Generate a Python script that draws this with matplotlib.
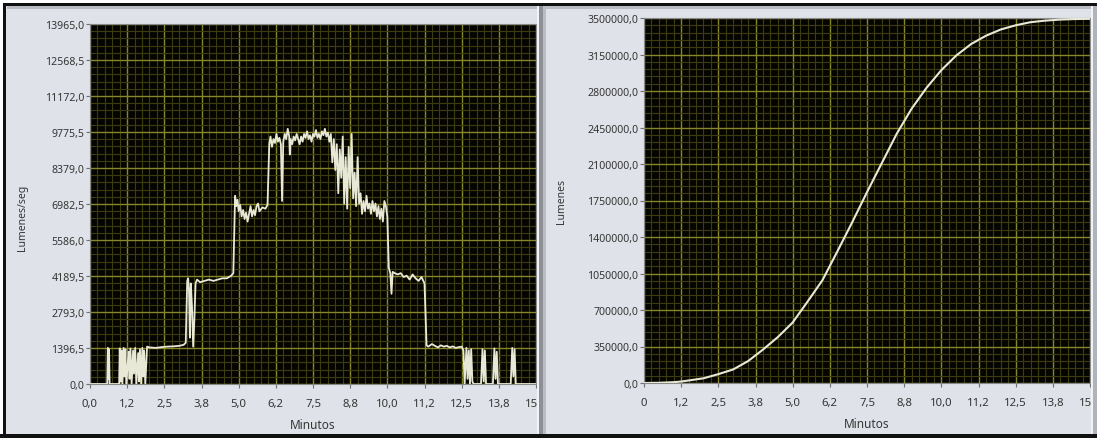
import matplotlib
matplotlib.use('Agg')
import matplotlib.pyplot as plt
from matplotlib.ticker import FixedLocator, MultipleLocator
from matplotlib.patches import Rectangle

plt.rcParams['font.family'] = ['Noto Sans', 'DejaVu Sans']

# ---------------- data ----------------
x_tick_labels_left = ['0,0', '1,2', '2,5', '3,8', '5,0', '6,2', '7,5', '8,8', '10,0', '11,2', '12,5', '13,8', '15,0']
x_tick_labels_right = ['0', '1,2', '2,5', '3,8', '5,0', '6,2', '7,5', '8,8', '10,0', '11,2', '12,5', '13,8', '15,0']
y_tick_labels_left = ['0,0', '1396,5', '2793,0', '4189,5', '5586,0', '6982,5', '8379,0',
                      '9775,5', '11172,0', '12568,5', '13965,0']
y_tick_labels_right = ['0,0', '350000,0', '700000,0', '1050000,0', '1400000,0', '1750000,0',
                       '2100000,0', '2450000,0', '2800000,0', '3150000,0', '3500000,0']

# Lumenes/seg vs minutes (left chart)
t_flux = [0.00, 0.58, 0.60, 0.62, 0.64, 0.66, 0.98, 1.00, 1.03, 1.06, 1.09, 1.13, 1.16, 1.19, 1.22,
          1.30, 1.33, 1.36, 1.40, 1.45, 1.48, 1.52, 1.56, 1.62, 1.65, 1.68, 1.72, 1.76, 1.79, 1.82,
          1.86, 1.92,
          2.00, 2.20, 2.40, 2.60, 2.80, 3.00, 3.15, 3.22,
          3.27, 3.30, 3.33, 3.36, 3.39, 3.43, 3.47, 3.51, 3.55, 3.60, 3.70, 3.85, 4.00, 4.15, 4.30,
          4.45, 4.60, 4.75, 4.82,
          4.88, 4.92, 4.96, 5.00, 5.05, 5.10, 5.15, 5.20, 5.25, 5.30, 5.35, 5.40, 5.45, 5.50, 5.55,
          5.60, 5.65, 5.70, 5.80, 5.90, 5.97,
          6.03, 6.07, 6.12, 6.17, 6.22, 6.27, 6.32, 6.37, 6.42, 6.46, 6.50, 6.55, 6.60, 6.65, 6.70,
          6.72, 6.75, 6.80, 6.85, 6.90, 6.95, 7.00, 7.05, 7.10, 7.15, 7.20, 7.25, 7.30, 7.35, 7.40,
          7.45, 7.50, 7.55, 7.60, 7.65, 7.70, 7.75, 7.80, 7.85, 7.90, 7.95, 8.00, 8.05, 8.10, 8.15,
          8.20, 8.25, 8.30, 8.35, 8.40, 8.45, 8.50, 8.55, 8.60, 8.65, 8.70, 8.75, 8.80, 8.85, 8.90,
          8.95, 9.00, 9.05, 9.10, 9.15, 9.20, 9.25, 9.30, 9.35, 9.40, 9.45, 9.50, 9.55, 9.60, 9.65,
          9.70, 9.75, 9.80, 9.85, 9.90, 9.95, 10.00,
          10.05, 10.10, 10.14, 10.18, 10.25, 10.35, 10.45, 10.55, 10.65, 10.75, 10.85, 10.95, 11.05,
          11.15, 11.25,
          11.32, 11.38, 11.50, 11.60, 11.70, 11.80, 11.90, 12.00, 12.10, 12.20, 12.30, 12.40, 12.50,
          12.56,
          12.60, 12.66, 12.70, 12.74, 12.78, 12.82, 12.86, 12.90, 13.15, 13.20, 13.24, 13.28, 13.32,
          13.55, 13.60, 13.64, 13.68, 13.72, 14.15, 14.20, 14.24, 14.28, 14.32, 15.00]
v_flux = [0, 0, 1400, 200, 1350, 0, 0, 1380, 100, 1300, 0, 1400, 300, 1350, 0,
          1250, 200, 1380, 0, 1300, 400, 1400, 0, 1200, 100, 1350, 0, 1400, 300, 1300,
          0, 1450,
          1420, 1400, 1430, 1450, 1460, 1480, 1520, 1600,
          4000, 4100, 3600, 1800, 3900, 3000, 1450, 2500, 3900, 4050, 3950, 4000, 4050, 4000, 4050,
          4100, 4100, 4200, 4300,
          7300, 6900, 7150, 6700, 6950, 6500, 6750, 6400, 6650, 6300, 6600, 6900, 6500, 6750, 6550,
          6900, 7000, 6700, 6850, 6800, 6950,
          9300, 9600, 9200, 9500, 9350, 9700, 9400, 9550, 9300, 7100, 9400, 9700, 9500, 9900, 9600,
          8900, 9500, 9300, 9600, 9450, 9700, 9500, 9300, 9600, 9400, 9700, 9550, 9800, 9500, 9650,
          9400, 9700, 9600, 9850, 9550, 9700, 9500, 9800, 9650, 9900, 9600, 9750, 9400, 9700, 8600,
          9500, 8300, 9300, 7400, 9100, 8000, 9600, 7000, 8800, 6800, 9200, 7600, 9700, 7200, 8200,
          6900, 8800, 7000, 7400, 6600, 7100, 6700, 7300, 6800, 7000, 6600, 7100, 6700, 7000, 6500,
          6900, 6400, 6800, 6300, 7100, 6900, 6500,
          4500, 4300, 3500, 4350, 4300, 4250, 4300, 4150, 4200, 4050, 4250, 4100, 4000,
          4150, 3900,
          1500, 1450, 1550, 1480, 1420, 1500, 1450, 1480, 1420, 1460, 1400, 1430, 1450,
          1300,
          0, 1400, 200, 1300, 0, 1350, 100, 0, 0, 1350, 100, 1300, 0,
          0, 1380, 200, 1250, 0, 0, 1400, 300, 1350, 0, 0]

# Cumulative Lumenes vs minutes (right chart)
t_total = [0.0, 0.5, 1.0, 1.25, 1.5, 2.0, 2.5, 3.0, 3.5, 4.0, 4.5, 5.0, 5.5, 6.0, 6.5, 7.0, 7.5,
           8.0, 8.5, 9.0, 9.5, 10.0, 10.5, 11.0, 11.5, 12.0, 12.5, 13.0, 13.5, 14.0, 14.5, 15.0]
v_total = [0, 2000, 8000, 14000, 24000, 45000, 85000, 130000, 210000, 320000, 440000, 580000,
           780000, 985000, 1260000, 1540000, 1830000, 2110000, 2390000, 2630000, 2830000, 3000000,
           3140000, 3250000, 3330000, 3390000, 3430000, 3460000, 3475000, 3485000, 3490000, 3492000]

# ---------------- figure ----------------
W, H = 1097, 439
PANEL = '#dfe2e8'
TXT = '#353535'
fig = plt.figure(figsize=(W / 100, H / 100), dpi=100, facecolor=PANEL)


def px_axes(x0, y0, x1, y1):
    return fig.add_axes([x0 / W, 1 - y1 / H, (x1 - x0) / W, (y1 - y0) / H])


def frame_rect(x0, y0, x1, y1, color, z=10):
    fig.add_artist(Rectangle((x0 / W, 1 - y1 / H), (x1 - x0) / W, (y1 - y0) / H,
                             transform=fig.transFigure, facecolor=color, edgecolor='none',
                             zorder=z))


def style(ax, x_labels, y_labels, ymax, ystep, ylabel, ylab_pos):
    ax.set_facecolor('#050500')
    ax.set_xlim(0, 15)
    ax.set_ylim(0, ymax)
    ax.xaxis.set_major_locator(FixedLocator([i * 1.25 for i in range(len(x_labels))]))
    ax.yaxis.set_major_locator(FixedLocator([i * ystep for i in range(len(y_labels))]))
    ax.set_xticklabels(x_labels)
    ax.set_yticklabels(y_labels)
    ax.xaxis.set_minor_locator(MultipleLocator(0.25))
    ax.yaxis.set_minor_locator(MultipleLocator(ystep / 5))
    ax.set_axisbelow(True)
    ax.grid(which='minor', color='#3c3c10', linewidth=0.8)
    ax.grid(which='major', color='#86862a', linewidth=1.0)
    ax.tick_params(which='minor', length=0)
    ax.tick_params(axis='y', which='major', length=3, width=0.8, color='#707070', pad=1,
                   labelsize=7.6, labelcolor=TXT)
    ax.tick_params(axis='x', which='major', length=3, width=0.8, color='#707070', pad=7,
                   labelsize=8.2, labelcolor=TXT)
    for s in ax.spines.values():
        s.set_color('#8a8a8a')
        s.set_linewidth(0.8)
    ax.set_xlabel('Minutos', fontsize=8.5, color=TXT)
    ax.xaxis.set_label_coords(0.5, -0.112)
    ax.xaxis.label.set_va('center')
    ax.set_ylabel(ylabel, fontsize=7.5, color=TXT)
    ax.yaxis.set_label_coords(*ylab_pos)
    ax.yaxis.label.set_va('center')


ax1 = px_axes(90, 25, 536, 385)
ax1.plot(t_flux, v_flux, color='#e8e8d6', linewidth=1.3, zorder=3)
style(ax1, x_tick_labels_left, y_tick_labels_left, 13965, 1396.5, 'Lumenes/seg', (-0.152, 0.464))

ax2 = px_axes(644, 19, 1090, 384)
ax2.plot(t_total, v_total, color='#e8e8d6', linewidth=1.5, zorder=3)
style(ax2, x_tick_labels_right, y_tick_labels_right, 3500000, 350000, 'Lumenes', (-0.184, 0.50))

# ---------------- window frame ----------------
frame_rect(0, 0, W, 4, 'white')
frame_rect(0, 4, W, 7, '#111111')
frame_rect(7, 7, W, 10, '#b9bcc3')
frame_rect(0, 4, 3, H, 'white')
frame_rect(3, 4, 6, H, '#111111')
frame_rect(0, 435, W, H, '#111111')
frame_rect(537, 7, 539, 435, '#f2f3f6')
frame_rect(539, 7, 543, 435, '#8d9097')
frame_rect(543, 7, 546, 435, '#babdc4')
frame_rect(1091, 7, 1093, 435, '#f2f3f6')
frame_rect(1093, 7, W, 435, '#b0b3ba')

fig.savefig('out.png', dpi=100, facecolor=fig.get_facecolor())
